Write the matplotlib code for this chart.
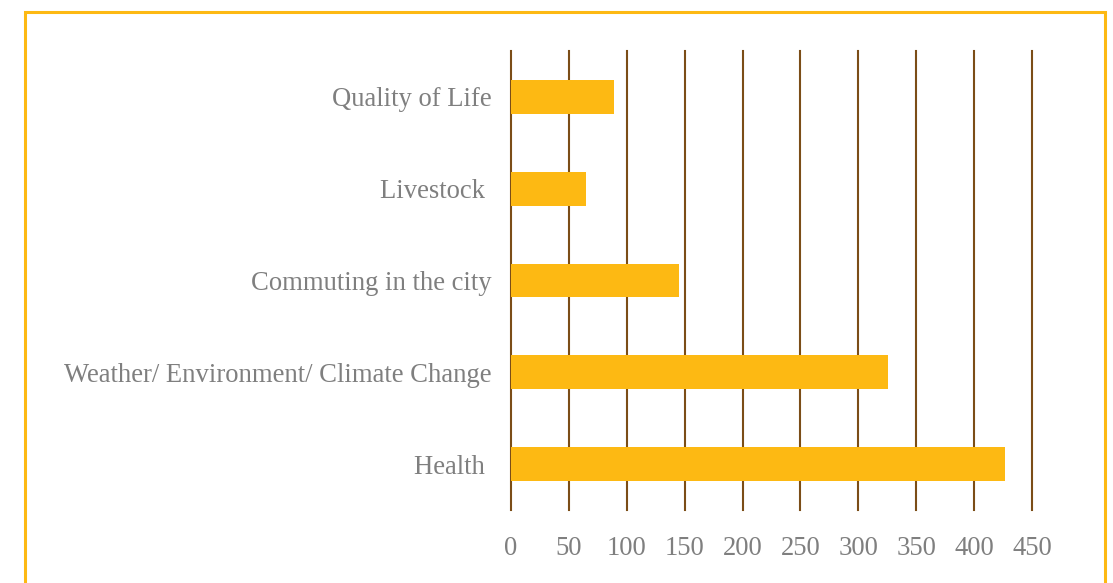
import matplotlib.pyplot as plt
from matplotlib.patches import Rectangle

# ── DATA ────────────────────────────────────────────────────────────────
categories = ["Health ", "Weather/ Environment/ Climate Change", "Commuting in the city",
              "Livestock ", "Quality of Life"]
counts     = [427, 326, 145, 65, 89]
x_ticks    = [0, 50, 100, 150, 200, 250, 300, 350, 400, 450]

BAR_COLOR  = "#FDB913"
GRID_COLOR = "#7B4D17"
TEXT_COLOR = "#7F7F7F"

fig = plt.figure(figsize=(11.13, 5.83), dpi=100)
ax = fig.add_axes([511/1113, 1 - 510/583, (1032-511)/1113, (510-51)/583])

# yellow frame around the chart (bottom edge runs off the image)
fig.patches.append(Rectangle((25/1113, -0.05), (1105-25)/1113, 1.05 - 12/583,
                             transform=fig.transFigure, fill=False,
                             edgecolor=BAR_COLOR, linewidth=2.2, zorder=0))

ax.barh(range(len(categories)), counts, height=0.37, color=BAR_COLOR, zorder=3)

ax.set_xlim(0, 450)
ax.set_ylim(-0.5, len(categories) - 0.5)
ax.set_xticks(x_ticks)
ax.set_yticks(range(len(categories)))
ax.set_yticklabels(categories)
ax.grid(axis="x", color=GRID_COLOR, linewidth=1.5, zorder=0)
for gl in ax.get_xgridlines():
    gl.set_clip_on(False)
ax.set_axisbelow(True)
for s in ax.spines.values():
    s.set_visible(False)
ax.tick_params(axis="both", length=0, labelsize=19.2, labelcolor=TEXT_COLOR)
ax.tick_params(axis="x", pad=19)
ax.tick_params(axis="y", pad=14)
for lbl in ax.get_xticklabels() + ax.get_yticklabels():
    lbl.set_fontfamily("Liberation Serif")

fig.savefig("out.png", dpi=100)
